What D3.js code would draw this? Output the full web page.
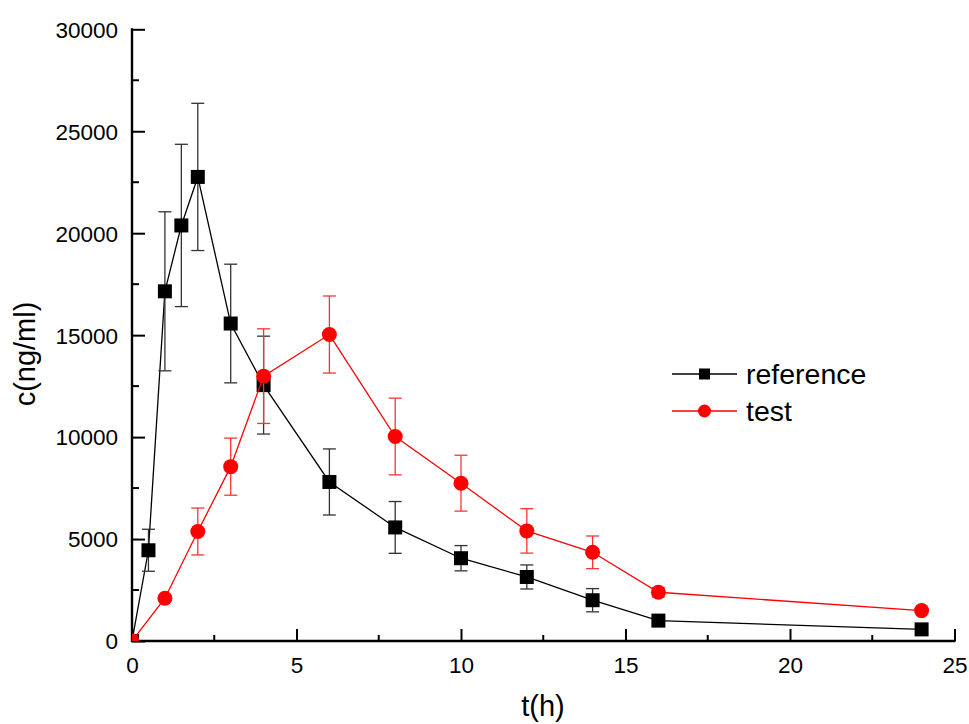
<!DOCTYPE html>
<html><head><meta charset="utf-8">
<script src="https://cdn.jsdelivr.net/npm/d3@7"></script>
<style>body{margin:0;background:#fff}svg{display:block}text{font-family:"Liberation Sans",Arial,sans-serif;fill:#000}</style>
</head><body>
<script>
const times = [0, 0.5, 1, 1.5, 2, 3, 4, 6, 8, 10, 12, 14, 16, 24];
const refMean = [0, 4450, 17150, 20380, 22760, 15570, 12550, 7800, 5570, 4060, 3140, 2000, 1000, 570];
const refSD   = [0, 1030, 3900, 3980, 3610, 2910, 2400, 1620, 1270, 620, 590, 570, 120, 0];
const testTimes = [0, 1, 2, 3, 4, 6, 8, 10, 12, 14, 16, 24];
const testMean = [0, 2100, 5370, 8550, 12990, 15030, 10030, 7740, 5400, 4350, 2390, 1490];
const testSD   = [0, 120, 1150, 1400, 2320, 1890, 1880, 1370, 1090, 800, 230, 0];
const xTicks = [0, 5, 10, 15, 20, 25];
const yTicks = [0, 5000, 10000, 15000, 20000, 25000, 30000];
const seriesNames = ["reference", "test"];

const W = 969, H = 724;
const svg = d3.select("body").append("svg").attr("width", W).attr("height", H);
const x = d3.scaleLinear().domain([0, 25]).range([132, 954.5]);
const y = d3.scaleLinear().domain([0, 30000]).range([641, 29.3]);

svg.append("clipPath").attr("id", "clip").append("rect")
  .attr("x", 132).attr("y", 0).attr("width", W - 132).attr("height", 641);

const xAxis = d3.axisBottom(x).tickValues(xTicks).tickSize(-12).tickPadding(0).tickFormat(d3.format("d"));
const gx = svg.append("g").attr("transform", "translate(0,641)").call(xAxis);
gx.select(".domain").remove();
gx.selectAll(".tick line").attr("stroke", "#000").attr("stroke-width", 2);
gx.selectAll(".tick text").attr("font-size", 22.5).attr("y", 16).attr("dy", "0.71em");
const xMinor = d3.range(2.5, 25, 5);
gx.selectAll(".minor").data(xMinor).enter().append("line")
  .attr("x1", d => x(d)).attr("x2", d => x(d)).attr("y1", 0).attr("y2", -6)
  .attr("stroke", "#000").attr("stroke-width", 2);
gx.append("line").attr("x1", 131).attr("x2", 955.5).attr("y1", 0).attr("y2", 0)
  .attr("stroke", "#000").attr("stroke-width", 2.4);

const yAxis = d3.axisLeft(y).tickValues(yTicks).tickSize(-13).tickPadding(0).tickFormat(d3.format("d"));
const gy = svg.append("g").attr("transform", "translate(132,0)").call(yAxis);
gy.select(".domain").remove();
gy.selectAll(".tick line").attr("stroke", "#000").attr("stroke-width", 2);
gy.selectAll(".tick text").attr("font-size", 22.5).attr("x", -14).attr("dy", "0.35em");
const yMinor = d3.range(2500, 30000, 5000);
gy.selectAll(".minor").data(yMinor).enter().append("line")
  .attr("x1", 0).attr("x2", 7).attr("y1", d => y(d)).attr("y2", d => y(d))
  .attr("stroke", "#000").attr("stroke-width", 2);
gy.append("line").attr("x1", 0).attr("x2", 0).attr("y1", 28.3).attr("y2", 642)
  .attr("stroke", "#000").attr("stroke-width", 2.4);

svg.append("text").attr("x", 543).attr("y", 716).attr("text-anchor", "middle")
  .attr("font-size", 29).text("t(h)");
svg.append("text").attr("transform", "translate(35,354) rotate(-90)").attr("text-anchor", "middle")
  .attr("font-size", 29).text("c(ng/ml)");

const plot = svg.append("g").attr("clip-path", "url(#clip)");

function drawSeries(ts, means, sds, color, barColor, shape) {
  const g = plot.append("g");
  const line = d3.line().x((d, i) => x(ts[i])).y(d => y(d));
  g.append("path").datum(means).attr("d", line).attr("fill", "none")
    .attr("stroke", color).attr("stroke-width", 1.3);
  const eb = g.selectAll(".eb").data(means.map((m, i) => ({t: ts[i], m, s: sds[i]})).filter(d => d.s > 0))
    .enter().append("g").attr("stroke", barColor).attr("stroke-width", 1.3);
  eb.append("line").attr("x1", d => x(d.t)).attr("x2", d => x(d.t))
    .attr("y1", d => y(d.m + d.s)).attr("y2", d => y(d.m - d.s));
  eb.append("line").attr("x1", d => x(d.t) - 6.5).attr("x2", d => x(d.t) + 6.5)
    .attr("y1", d => y(d.m + d.s)).attr("y2", d => y(d.m + d.s));
  eb.append("line").attr("x1", d => x(d.t) - 6.5).attr("x2", d => x(d.t) + 6.5)
    .attr("y1", d => y(d.m - d.s)).attr("y2", d => y(d.m - d.s));
  if (shape === "square") {
    g.selectAll(".pt").data(means).enter().append("rect")
      .attr("x", (d, i) => x(ts[i]) - 7).attr("y", d => y(d) - 7)
      .attr("width", 14).attr("height", 14).attr("fill", color);
  } else {
    g.selectAll(".pt").data(means).enter().append("circle")
      .attr("cx", (d, i) => x(ts[i])).attr("cy", d => y(d)).attr("r", 7.5).attr("fill", color);
  }
}
drawSeries(times, refMean, refSD, "#000", "#333", "square");
drawSeries(testTimes, testMean, testSD, "#ff0000", "#ff3333", "circle");

const lg = svg.append("g");
lg.append("line").attr("x1", 672).attr("x2", 737).attr("y1", 374).attr("y2", 374).attr("stroke", "#000").attr("stroke-width", 1.3);
lg.append("rect").attr("x", 704.5 - 5.5).attr("y", 374 - 5.5).attr("width", 11).attr("height", 11).attr("fill", "#000");
lg.append("text").attr("x", 746).attr("y", 384).attr("font-size", 28.5).text(seriesNames[0]);
lg.append("line").attr("x1", 672).attr("x2", 737).attr("y1", 411).attr("y2", 411).attr("stroke", "#ff0000").attr("stroke-width", 1.3);
lg.append("circle").attr("cx", 704.5).attr("cy", 411).attr("r", 6.5).attr("fill", "#ff0000");
lg.append("text").attr("x", 746).attr("y", 421).attr("font-size", 28.5).text(seriesNames[1]);
</script>
</body></html>
